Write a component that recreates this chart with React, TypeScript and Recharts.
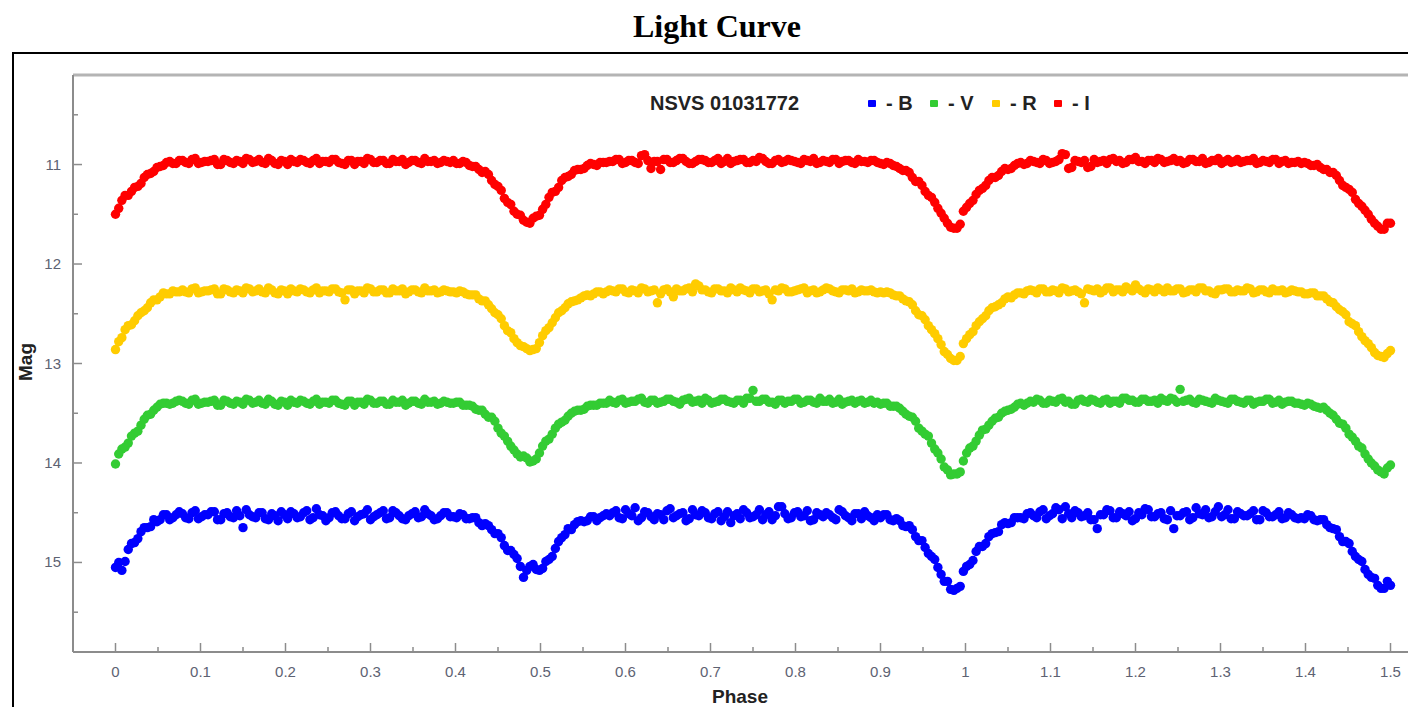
import { Legend, ReferenceLine, Scatter, ScatterChart, XAxis, YAxis } from "recharts";

// orbital phase of the first set of observations
const PHASE = [
  0, 0.0075, 0.015, 0.0225, 0.03, 0.0375, 0.045, 0.0525, 0.06, 0.0675,
  0.075, 0.0825, 0.09, 0.0975, 0.105, 0.1125, 0.12, 0.1275, 0.135, 0.1425,
  0.15, 0.1575, 0.165, 0.1725, 0.18, 0.1875, 0.195, 0.2025, 0.21, 0.2175,
  0.225, 0.2325, 0.24, 0.2475, 0.255, 0.2625, 0.27, 0.2775, 0.285, 0.2925,
  0.3, 0.3075, 0.315, 0.3225, 0.33, 0.3375, 0.345, 0.3525, 0.36, 0.3675,
  0.375, 0.3825, 0.39, 0.3975, 0.405, 0.4125, 0.42, 0.4275, 0.435, 0.4425,
  0.45, 0.4575, 0.465, 0.4725, 0.48, 0.4875, 0.495, 0.5025, 0.51, 0.5175,
  0.525, 0.5325, 0.54, 0.5475, 0.555, 0.5625, 0.57, 0.5775, 0.585, 0.5925,
  0.6, 0.6075, 0.615, 0.6225, 0.63, 0.6375, 0.645, 0.6525, 0.66, 0.6675,
  0.675, 0.6825, 0.69, 0.6975, 0.705, 0.7125, 0.72, 0.7275, 0.735, 0.7425,
  0.75, 0.7575, 0.765, 0.7725, 0.78, 0.7875, 0.795, 0.8025, 0.81, 0.8175,
  0.825, 0.8325, 0.84, 0.8475, 0.855, 0.8625, 0.87, 0.8775, 0.885, 0.8925,
  0.9, 0.9075, 0.915, 0.9225, 0.93, 0.9375, 0.945, 0.9525, 0.96, 0.9675,
  0.975, 0.9825, 0.99, 0.9975, 1.005, 1.0125, 1.02, 1.0275, 1.035, 1.0425,
  1.05, 1.0575, 1.065, 1.0725, 1.08, 1.0875, 1.095, 1.1025, 1.11, 1.1175,
  1.125, 1.1325, 1.14, 1.1475, 1.155, 1.1625, 1.17, 1.1775, 1.185, 1.1925,
  1.2, 1.2075, 1.215, 1.2225, 1.23, 1.2375, 1.245, 1.2525, 1.26, 1.2675,
  1.275, 1.2825, 1.29, 1.2975, 1.305, 1.3125, 1.32, 1.3275, 1.335, 1.3425,
  1.35, 1.3575, 1.365, 1.3725, 1.38, 1.3875, 1.395, 1.4025, 1.41, 1.4175,
  1.425, 1.4325, 1.44, 1.4475, 1.455, 1.4625, 1.47, 1.4775, 1.485, 1.4925,
  1.5,
];

// orbital phase of the second set of observations
const PHASE_2 = [
  0.0038, 0.0113, 0.0188, 0.0263, 0.0338, 0.0413, 0.0488, 0.0563, 0.0638, 0.0713,
  0.0788, 0.0863, 0.0938, 0.1013, 0.1088, 0.1163, 0.1238, 0.1313, 0.1388, 0.1463,
  0.1538, 0.1613, 0.1688, 0.1763, 0.1838, 0.1913, 0.1988, 0.2063, 0.2138, 0.2213,
  0.2288, 0.2363, 0.2438, 0.2513, 0.2588, 0.2663, 0.2738, 0.2813, 0.2888, 0.2963,
  0.3038, 0.3113, 0.3188, 0.3263, 0.3338, 0.3413, 0.3488, 0.3563, 0.3638, 0.3713,
  0.3788, 0.3863, 0.3938, 0.4013, 0.4088, 0.4163, 0.4238, 0.4313, 0.4388, 0.4463,
  0.4538, 0.4613, 0.4688, 0.4763, 0.4838, 0.4913, 0.4988, 0.5063, 0.5138, 0.5213,
  0.5288, 0.5363, 0.5438, 0.5513, 0.5588, 0.5663, 0.5738, 0.5813, 0.5888, 0.5963,
  0.6038, 0.6113, 0.6188, 0.6263, 0.6338, 0.6413, 0.6488, 0.6563, 0.6638, 0.6713,
  0.6788, 0.6863, 0.6938, 0.7013, 0.7088, 0.7163, 0.7238, 0.7313, 0.7388, 0.7463,
  0.7538, 0.7613, 0.7688, 0.7763, 0.7838, 0.7913, 0.7988, 0.8063, 0.8138, 0.8213,
  0.8288, 0.8363, 0.8438, 0.8513, 0.8588, 0.8663, 0.8738, 0.8813, 0.8888, 0.8963,
  0.9038, 0.9113, 0.9188, 0.9263, 0.9338, 0.9413, 0.9488, 0.9563, 0.9638, 0.9713,
  0.9788, 0.9863, 0.9938, 1.0013, 1.0088, 1.0163, 1.0238, 1.0313, 1.0388, 1.0463,
  1.0538, 1.0613, 1.0688, 1.0763, 1.0838, 1.0913, 1.0988, 1.1063, 1.1138, 1.1213,
  1.1288, 1.1363, 1.1438, 1.1513, 1.1588, 1.1663, 1.1738, 1.1813, 1.1888, 1.1963,
  1.2038, 1.2113, 1.2188, 1.2263, 1.2338, 1.2413, 1.2488, 1.2563, 1.2638, 1.2713,
  1.2788, 1.2863, 1.2938, 1.3013, 1.3088, 1.3163, 1.3238, 1.3313, 1.3388, 1.3463,
  1.3538, 1.3613, 1.3688, 1.3763, 1.3838, 1.3913, 1.3988, 1.4063, 1.4138, 1.4213,
  1.4288, 1.4363, 1.4438, 1.4513, 1.4588, 1.4663, 1.4738, 1.4813, 1.4888, 1.4963,
];

const MAG_I = [
  11.5, 11.36, 11.31, 11.23, 11.19, 11.1, 11.07, 11.02, 10.98, 10.99, 10.96,
  10.98, 10.95, 10.99, 10.97, 10.96, 11.0, 10.95, 10.98, 10.96, 10.99,
  10.95, 10.97, 10.98, 10.94, 10.99, 10.96, 11.0, 10.97, 10.95, 10.98,
  10.96, 10.99, 10.97, 10.95, 10.98, 11.0, 10.96, 10.97, 10.99, 10.95,
  10.98, 10.96, 10.99, 10.97, 10.95, 10.98, 10.96, 10.99, 10.97, 10.96,
  10.98, 10.97,
  10.96, 10.99, 10.98, 11.02, 11.05, 11.07, 11.16, 11.22, 11.34, 11.4, 11.5, 11.56, 11.59,
  11.52, 11.45, 11.33, 11.27, 11.16, 11.12, 11.06, 11.05, 11.01, 11.0, 10.98, 10.98,
  10.97, 10.95, 10.98, 10.96, 10.99, 10.9, 11.04, 10.97, 10.95, 10.98,
  10.96, 10.94, 10.99, 10.97, 10.95, 10.98, 10.96, 10.99, 10.94, 10.97,
  10.95, 10.98, 10.96, 10.93, 10.97, 10.99, 10.95, 10.97, 10.96, 10.98,
  10.95, 10.97, 10.99, 10.96, 10.98, 10.95, 10.97, 10.96, 10.99, 10.97,
  10.98, 10.96,
  10.99, 10.98, 11.01, 11.04, 11.06, 11.13, 11.17, 11.27, 11.33, 11.44, 11.54, 11.63,
  11.64, 11.47, 11.39, 11.3, 11.24, 11.16, 11.13, 11.07, 11.05, 11.01, 10.98, 10.99,
  10.97, 10.99, 10.96, 10.98, 10.95, 10.9, 11.03, 10.97, 10.96, 11.02,
  10.98, 10.96, 10.95, 10.97, 10.99, 10.95, 10.93, 10.97, 10.96, 10.98,
  10.95, 10.97, 10.94, 10.96, 10.98, 10.95, 10.97, 10.99, 10.96, 10.94,
  10.97, 10.98, 10.95, 10.97, 10.96, 10.99, 10.96, 10.98, 10.95, 10.97,
  10.99, 10.98,
  10.99, 10.99, 11.01, 11.03, 11.05, 11.08, 11.16, 11.23, 11.28, 11.39, 11.46, 11.55,
  11.62, 11.65, 11.59,
];

const MAG_I_2 = [
  11.44, 11.31, 11.27, 11.22, 11.13, 11.09, 11.03, 11.01, 10.97, 10.99,
  10.96, 10.99, 10.94, 10.98, 10.97, 10.95, 11.0, 10.96, 10.99, 10.97,
  10.94, 10.98, 10.95, 10.99, 10.96, 11.0, 10.97, 10.95, 10.98, 10.96,
  10.99, 10.94, 10.97, 10.98, 10.95, 10.99, 10.96, 11.0, 10.97, 10.94,
  10.98, 10.96, 10.99, 10.95, 10.97, 11.0, 10.96, 10.98, 10.94, 10.97,
  10.99, 10.96, 10.98,
  10.99, 10.97, 11.01, 11.02, 11.08, 11.1, 11.2, 11.26, 11.38, 11.47, 11.51, 11.58,
  11.54, 11.51, 11.4, 11.28, 11.23, 11.13, 11.1, 11.05, 11.04, 10.99, 11.01, 10.98,
  10.97, 10.95, 10.99, 10.96, 10.98, 10.91, 10.96, 10.97, 11.05, 10.95,
  10.98, 10.94, 10.97, 10.99, 10.95, 10.96, 10.98, 10.94, 10.97, 10.99,
  10.96, 10.95, 10.98, 10.97, 10.94, 10.99, 10.96, 10.98, 10.95, 10.97,
  10.99, 10.96, 10.94, 10.98, 10.97, 10.95, 10.99, 10.96, 10.98, 10.95,
  10.97, 10.96, 10.98,
  11.0, 10.99, 11.02, 11.06, 11.08, 11.17, 11.21, 11.31, 11.38, 11.49, 11.59, 11.64,
  11.6, 11.43, 11.36, 11.26, 11.21, 11.13, 11.11, 11.04, 11.04, 10.99, 11.0,
  10.96, 10.98, 10.95, 10.99, 10.97, 10.89, 11.04, 10.96, 10.98, 11.03,
  10.95, 10.97, 10.99, 10.94, 10.96, 10.98, 10.95, 10.97, 10.99, 10.96,
  10.94, 10.98, 10.96, 10.97, 10.99, 10.95, 10.97, 10.94, 10.98, 10.96,
  10.99, 10.95, 10.97, 10.98, 10.96, 10.94, 10.98, 10.97, 10.95, 10.99,
  10.96, 10.98, 10.97,
  10.98, 11.01, 11.0, 11.05, 11.08, 11.11, 11.21, 11.25, 11.35, 11.42, 11.5, 11.59,
  11.65, 11.59,
];

const MAG_R = [
  12.86, 12.74, 12.62, 12.57, 12.49, 12.44, 12.36, 12.33, 12.3, 12.27, 12.28,
  12.28, 12.25, 12.29, 12.27, 12.26, 12.3, 12.25, 12.28, 12.26, 12.29,
  12.25, 12.27, 12.28, 12.24, 12.29, 12.26, 12.3, 12.27, 12.25, 12.28,
  12.26, 12.29, 12.27, 12.25, 12.28, 12.36, 12.26, 12.27, 12.29, 12.25,
  12.28, 12.26, 12.29, 12.27, 12.25, 12.28, 12.26, 12.29, 12.27, 12.26,
  12.28, 12.27,
  12.28, 12.27, 12.3, 12.31, 12.35, 12.37, 12.45, 12.51, 12.62, 12.69, 12.79, 12.83, 12.87,
  12.85, 12.72, 12.64, 12.54, 12.47, 12.4, 12.37, 12.34, 12.31, 12.3, 12.28, 12.28,
  12.27, 12.25, 12.28, 12.26, 12.29, 12.25, 12.27, 12.39, 12.26, 12.28,
  12.25, 12.27, 12.24, 12.2, 12.26, 12.28, 12.25, 12.27, 12.29, 12.26,
  12.24, 12.27, 12.25, 12.28, 12.26, 12.36, 12.27, 12.25, 12.28, 12.26,
  12.24, 12.27, 12.29, 12.26, 12.25, 12.28, 12.26, 12.27, 12.29, 12.26,
  12.27, 12.28,
  12.28, 12.28, 12.31, 12.32, 12.37, 12.41, 12.51, 12.56, 12.66, 12.75, 12.88, 12.95,
  12.97, 12.8, 12.71, 12.62, 12.55, 12.47, 12.43, 12.39, 12.33, 12.31, 12.29, 12.27,
  12.27, 12.25, 12.28, 12.26, 12.29, 12.25, 12.27, 12.28, 12.39, 12.26,
  12.25, 12.27, 12.24, 12.26, 12.28, 12.25, 12.21, 12.27, 12.25, 12.28,
  12.26, 12.24, 12.27, 12.25, 12.28, 12.26, 12.24, 12.27, 12.29, 12.26,
  12.25, 12.28, 12.26, 12.27, 12.25, 12.28, 12.26, 12.29, 12.27, 12.26,
  12.28, 12.27,
  12.28, 12.3, 12.29, 12.32, 12.35, 12.39, 12.46, 12.51, 12.6, 12.68, 12.77, 12.84,
  12.92, 12.94, 12.87,
];

const MAG_R_2 = [
  12.78, 12.66, 12.61, 12.52, 12.47, 12.39, 12.36, 12.29, 12.3, 12.28,
  12.26, 12.29, 12.24, 12.28, 12.27, 12.25, 12.3, 12.26, 12.29, 12.27,
  12.24, 12.28, 12.25, 12.29, 12.26, 12.3, 12.27, 12.25, 12.28, 12.26,
  12.29, 12.24, 12.27, 12.28, 12.25, 12.29, 12.26, 12.3, 12.27, 12.24,
  12.28, 12.26, 12.29, 12.25, 12.27, 12.3, 12.26, 12.28, 12.24, 12.27,
  12.29, 12.26, 12.28,
  12.29, 12.28, 12.31, 12.31, 12.37, 12.41, 12.49, 12.55, 12.67, 12.75, 12.82, 12.85,
  12.86, 12.79, 12.67, 12.59, 12.49, 12.44, 12.38, 12.36, 12.32, 12.32, 12.28, 12.3,
  12.26, 12.28, 12.25, 12.29, 12.27, 12.24, 12.28, 12.26, 12.3, 12.25,
  12.33, 12.27, 12.25, 12.28, 12.22, 12.26, 12.29, 12.25, 12.27, 12.24,
  12.28, 12.26, 12.29, 12.25, 12.27, 12.3, 12.26, 12.24, 12.28, 12.27,
  12.25, 12.29, 12.26, 12.28, 12.24, 12.27, 12.29, 12.26, 12.25, 12.28,
  12.27, 12.26, 12.29,
  12.29, 12.29, 12.32, 12.35, 12.38, 12.47, 12.52, 12.62, 12.7, 12.81, 12.91, 12.97,
  12.93, 12.75, 12.68, 12.58, 12.52, 12.44, 12.41, 12.35, 12.34, 12.29, 12.3,
  12.26, 12.29, 12.25, 12.28, 12.27, 12.24, 12.28, 12.26, 12.3, 12.25,
  12.27, 12.29, 12.24, 12.28, 12.26, 12.23, 12.27, 12.25, 12.29, 12.26,
  12.24, 12.28, 12.27, 12.25, 12.29, 12.26, 12.28, 12.24, 12.27, 12.3,
  12.26, 12.25, 12.28, 12.27, 12.24, 12.29, 12.26, 12.28, 12.25, 12.27,
  12.29, 12.26, 12.28,
  12.3, 12.29, 12.32, 12.32, 12.38, 12.43, 12.48, 12.58, 12.62, 12.73, 12.8, 12.89,
  12.93, 12.9,
];

const MAG_V = [
  14.01, 13.86, 13.8, 13.7, 13.62, 13.52, 13.47, 13.41, 13.4, 13.4, 13.37,
  13.4, 13.37, 13.41, 13.39, 13.38, 13.42, 13.37, 13.4, 13.38, 13.41,
  13.37, 13.39, 13.4, 13.36, 13.41, 13.38, 13.42, 13.39, 13.37, 13.4,
  13.38, 13.41, 13.39, 13.37, 13.4, 13.42, 13.38, 13.39, 13.41, 13.37,
  13.4, 13.38, 13.41, 13.39, 13.37, 13.4, 13.38, 13.41, 13.39, 13.38,
  13.4, 13.39,
  13.4, 13.39, 13.42, 13.43, 13.47, 13.51, 13.54, 13.65, 13.73, 13.83, 13.91, 13.93, 13.99,
  13.96, 13.83, 13.76, 13.65, 13.59, 13.53, 13.48, 13.47, 13.43, 13.42, 13.4, 13.4,
  13.39, 13.37, 13.4, 13.38, 13.36, 13.39, 13.37, 13.4, 13.38, 13.36,
  13.39, 13.37, 13.35, 13.38, 13.4, 13.37, 13.39, 13.36, 13.38, 13.4,
  13.37, 13.35, 13.27, 13.38, 13.36, 13.39, 13.37, 13.4, 13.38, 13.36,
  13.39, 13.37, 13.4, 13.38, 13.36, 13.39, 13.41, 13.38, 13.4, 13.37,
  13.39, 13.4,
  13.41, 13.4, 13.43, 13.45, 13.51, 13.54, 13.65, 13.71, 13.8, 13.9, 14.04, 14.12,
  14.11, 13.98, 13.85, 13.78, 13.67, 13.62, 13.55, 13.5, 13.47, 13.44, 13.4, 13.4,
  13.39, 13.37, 13.4, 13.38, 13.36, 13.39, 13.41, 13.37, 13.38, 13.36,
  13.39, 13.37, 13.4, 13.38, 13.35, 13.37, 13.39, 13.36, 13.38, 13.37,
  13.35, 13.38, 13.36, 13.26, 13.37, 13.39, 13.36, 13.38, 13.4, 13.37,
  13.39, 13.36, 13.38, 13.4, 13.37, 13.39, 13.38, 13.36, 13.39, 13.41,
  13.38, 13.4,
  13.41, 13.4, 13.43, 13.45, 13.47, 13.52, 13.6, 13.65, 13.74, 13.83, 13.91, 14.0,
  14.07, 14.11, 14.02,
];

const MAG_V_2 = [
  13.91, 13.84, 13.73, 13.68, 13.56, 13.51, 13.44, 13.4, 13.41, 13.38,
  13.38, 13.41, 13.36, 13.4, 13.39, 13.37, 13.42, 13.38, 13.41, 13.39,
  13.36, 13.4, 13.37, 13.41, 13.38, 13.42, 13.39, 13.37, 13.4, 13.38,
  13.41, 13.36, 13.39, 13.4, 13.37, 13.41, 13.38, 13.42, 13.39, 13.36,
  13.4, 13.38, 13.41, 13.37, 13.39, 13.42, 13.38, 13.4, 13.36, 13.39,
  13.41, 13.38, 13.4,
  13.39, 13.42, 13.42, 13.46, 13.47, 13.54, 13.58, 13.7, 13.78, 13.87, 13.94, 13.95,
  13.98, 13.9, 13.78, 13.71, 13.61, 13.57, 13.5, 13.47, 13.46, 13.42, 13.42, 13.4,
  13.37, 13.4, 13.36, 13.39, 13.38, 13.35, 13.4, 13.37, 13.39, 13.36,
  13.38, 13.41, 13.36, 13.39, 13.37, 13.35, 13.4, 13.38, 13.36, 13.39,
  13.37, 13.4, 13.35, 13.38, 13.36, 13.39, 13.41, 13.37, 13.38, 13.36,
  13.4, 13.37, 13.39, 13.35, 13.38, 13.4, 13.36, 13.39, 13.37, 13.38,
  13.4, 13.37, 13.39,
  13.4, 13.43, 13.43, 13.48, 13.53, 13.58, 13.68, 13.73, 13.86, 13.96, 14.07, 14.11,
  14.09, 13.9, 13.83, 13.72, 13.66, 13.58, 13.54, 13.48, 13.46, 13.41, 13.42,
  13.38, 13.36, 13.4, 13.37, 13.39, 13.35, 13.38, 13.41, 13.36, 13.39,
  13.37, 13.4, 13.36, 13.38, 13.4, 13.35, 13.37, 13.39, 13.36, 13.38,
  13.4, 13.37, 13.35, 13.39, 13.38, 13.36, 13.4, 13.37, 13.39, 13.35,
  13.38, 13.4, 13.36, 13.39, 13.37, 13.41, 13.38, 13.36, 13.4, 13.37,
  13.39, 13.38, 13.4,
  13.42, 13.41, 13.44, 13.44, 13.5, 13.56, 13.61, 13.71, 13.78, 13.85, 13.96, 14.03,
  14.09, 14.05,
];

const MAG_B = [
  15.05, 15.08, 14.87, 14.8, 14.69, 14.65, 14.57, 14.57, 14.52, 14.55, 14.49,
  14.55, 14.5, 14.56, 14.52, 14.49, 14.57, 14.51, 14.54, 14.48, 14.65,
  14.52, 14.55, 14.5, 14.57, 14.53, 14.49, 14.56, 14.51, 14.54, 14.48,
  14.55, 14.52, 14.58, 14.5, 14.53, 14.56, 14.49, 14.54, 14.51, 14.57,
  14.52, 14.48, 14.55, 14.5, 14.56, 14.53, 14.49, 14.54, 14.51, 14.57,
  14.53, 14.5,
  14.54, 14.51, 14.56, 14.55, 14.6, 14.61, 14.67, 14.71, 14.83, 14.88, 14.96, 15.15, 15.04,
  15.07, 15.06, 14.97, 14.86, 14.75, 14.66, 14.62, 14.58, 14.58, 14.54, 14.55, 14.51,
  14.5, 14.55, 14.47, 14.53, 14.58, 14.49, 14.54, 14.51, 14.57, 14.46,
  14.53, 14.5, 14.56, 14.52, 14.48, 14.55, 14.51, 14.58, 14.49, 14.53,
  14.56, 14.5, 14.54, 14.47, 14.52, 14.57, 14.44, 14.51, 14.55, 14.49,
  14.53, 14.58, 14.5, 14.54, 14.52, 14.57, 14.49, 14.55, 14.51, 14.56,
  14.53, 14.58,
  14.55, 14.52, 14.58, 14.58, 14.64, 14.67, 14.78, 14.85, 14.94, 15.05, 15.19, 15.27,
  15.26, 15.09, 15.02, 14.89, 14.84, 14.74, 14.7, 14.62, 14.61, 14.55, 14.55, 14.51,
  14.53, 14.49, 14.56, 14.51, 14.47, 14.44, 14.55, 14.5, 14.53, 14.57,
  14.66, 14.52, 14.48, 14.55, 14.51, 14.49, 14.56, 14.52, 14.47, 14.54,
  14.5, 14.57, 14.66, 14.53, 14.49, 14.55, 14.51, 14.47, 14.54, 14.44,
  14.52, 14.56, 14.49, 14.53, 14.51, 14.57, 14.48, 14.54, 14.52, 14.56,
  14.5, 14.55,
  14.55, 14.52, 14.57, 14.57, 14.62, 14.66, 14.74, 14.79, 14.89, 14.97, 15.07, 15.15,
  15.23, 15.26, 15.23,
];

const MAG_B_2 = [
  15.0, 14.99, 14.81, 14.76, 14.65, 14.64, 14.59, 14.52, 14.57, 14.52,
  14.51, 14.56, 14.48, 14.54, 14.52, 14.49, 14.57, 14.5, 14.55, 14.53,
  14.47, 14.54, 14.5, 14.56, 14.51, 14.58, 14.52, 14.49, 14.55, 14.5,
  14.57, 14.46, 14.53, 14.55, 14.49, 14.56, 14.51, 14.58, 14.52, 14.47,
  14.54, 14.5, 14.56, 14.48, 14.53, 14.57, 14.51, 14.55, 14.47, 14.53,
  14.56, 14.5, 14.54,
  14.55, 14.52, 14.56, 14.55, 14.63, 14.63, 14.71, 14.75, 14.88, 14.92, 15.04, 15.08,
  15.02, 15.08, 14.99, 14.94, 14.79, 14.72, 14.67, 14.59, 14.59, 14.54, 14.58, 14.53,
  14.53, 14.48, 14.56, 14.51, 14.45, 14.55, 14.5, 14.57, 14.52, 14.48,
  14.55, 14.51, 14.58, 14.47, 14.53, 14.5, 14.56, 14.49, 14.54, 14.6,
  14.51, 14.47, 14.55, 14.52, 14.57, 14.49, 14.53, 14.44, 14.56, 14.5,
  14.54, 14.48, 14.57, 14.52, 14.5, 14.55, 14.47, 14.53, 14.58, 14.51,
  14.49, 14.55, 14.52,
  14.52, 14.57, 14.56, 14.63, 14.63, 14.74, 14.78, 14.91, 14.97, 15.12, 15.19, 15.28,
  15.24, 15.04, 14.98, 14.84, 14.81, 14.71, 14.69, 14.6, 14.6, 14.55, 14.56,
  14.5, 14.55, 14.47, 14.53, 14.45, 14.56, 14.51, 14.48, 14.54, 14.5,
  14.57, 14.52, 14.47, 14.55, 14.49, 14.53, 14.58, 14.5, 14.46, 14.54,
  14.51, 14.56, 14.48, 14.53, 14.5, 14.57, 14.45, 14.52, 14.55, 14.49,
  14.54, 14.47, 14.56, 14.51, 14.53, 14.48, 14.57, 14.5, 14.54, 14.49,
  14.55, 14.52, 14.56,
  14.56, 14.53, 14.58, 14.57, 14.65, 14.67, 14.79, 14.81, 14.94, 14.99, 15.12, 15.16,
  15.26, 15.19,
];

const X_TICKS = [
  0, 0.05, 0.1, 0.15, 0.2, 0.25, 0.3, 0.35, 0.4, 0.45, 0.5, 0.55, 0.6, 0.65, 0.7, 0.75,
  0.8, 0.85, 0.9, 0.95, 1, 1.05, 1.1, 1.15, 1.2, 1.25, 1.3, 1.35, 1.4, 1.45, 1.5,
];
const Y_TICKS = [10.5, 11, 11.5, 12, 12.5, 13, 13.5, 14, 14.5, 15, 15.5];

const SERIES = [
  { name: "B", color: "#0000ff", mags: MAG_B, mags2: MAG_B_2 },
  { name: "V", color: "#33cc33", mags: MAG_V, mags2: MAG_V_2 },
  { name: "R", color: "#ffcc00", mags: MAG_R, mags2: MAG_R_2 },
  { name: "I", color: "#ff0000", mags: MAG_I, mags2: MAG_I_2 },
];

const FONT = "'Liberation Sans', Arial, sans-serif";
const TICK_COLOR = "#5d6272";
const AXIS_COLOR = "#8c8c8c";

const isMajor = (v: number, step: number) =>
  Math.abs(v / step - Math.round(v / step)) < 1e-6;

const toPoints = (mags: number[], mags2: number[]) =>
  PHASE.map((phase, i) => ({ phase, mag: mags[i] }))
    .concat(PHASE_2.map((phase, i) => ({ phase, mag: mags2[i] })))
    .filter((d) => d.mag != null);

function PhaseTick({ x, y, payload }: any) {
  const v = payload.value as number;
  const major = isMajor(v, 0.1);
  return (
    <g>
      <line x1={x} x2={x} y1={y} y2={y - (major ? 9 : 5)} stroke={AXIS_COLOR} strokeWidth={1.5} />
      {major && (
        <text x={x} y={y + 25} textAnchor="middle" fontSize={15} fontFamily={FONT} fill={TICK_COLOR}>
          {String(Number(v.toFixed(2)))}
        </text>
      )}
    </g>
  );
}

function MagTick({ x, y, payload }: any) {
  const v = payload.value as number;
  const major = isMajor(v, 1);
  return (
    <g>
      <line x1={x} x2={x + (major ? 9 : 5)} y1={y} y2={y} stroke={AXIS_COLOR} strokeWidth={1.5} />
      {major && (
        <text x={x - 12} y={y + 5} textAnchor="end" fontSize={15} fontFamily={FONT} fill={TICK_COLOR}>
          {v}
        </text>
      )}
    </g>
  );
}

// legend keeps the series order (B, V, R, I) instead of recharts' sorted payload
function LegendBox() {
  return (
    <div style={{ display: "flex", alignItems: "center", fontFamily: FONT, fontWeight: "bold", fontSize: 20, color: "#222" }}>
      <span style={{ width: 218 }}>NSVS 01031772</span>
      {SERIES.map((s) => (
        <span key={s.name} style={{ width: 62, display: "flex", alignItems: "center" }}>
          <span style={{ width: 8, height: 7, background: s.color, borderRadius: 1, marginRight: 10 }} />
          <span>- {s.name}</span>
        </span>
      ))}
    </div>
  );
}

export default function App() {
  return (
    <div style={{ position: "absolute", left: 0, top: 0, width: 1408, height: 707, overflow: "hidden", background: "#fff" }}>
      <div
        style={{
          position: "absolute", left: 0, top: 6, width: 1434, textAlign: "center",
          fontFamily: "'Liberation Serif', 'Times New Roman', serif", fontWeight: "bold",
          fontSize: 32, lineHeight: "40px", color: "#000",
        }}
      >
        Light Curve
      </div>
      <div style={{ position: "absolute", left: 12, top: 52, width: 1500, height: 720, border: "2px solid #000" }} />
      <div style={{ position: "absolute", left: 0, top: 0 }}>
        <ScatterChart width={1463} height={720} margin={{ top: 75, right: 30, bottom: 0, left: 0 }}>
          <XAxis
            type="number"
            dataKey="phase"
            domain={[-0.05, 1.55]}
            ticks={X_TICKS}
            interval={0}
            height={68}
            tickSize={0}
            tickMargin={0}
            tickLine={false}
            tick={(p: any) => <PhaseTick {...p} />}
            axisLine={{ stroke: AXIS_COLOR, strokeWidth: 2 }}
          />
          <YAxis
            type="number"
            dataKey="mag"
            reversed
            domain={[10.1, 15.9]}
            ticks={Y_TICKS}
            interval={0}
            width={73}
            tickSize={0}
            tickMargin={0}
            tickLine={false}
            tick={(p: any) => <MagTick {...p} />}
            axisLine={{ stroke: AXIS_COLOR, strokeWidth: 2 }}
          />
          <ReferenceLine y={10.1} stroke="#b4b4b4" strokeWidth={3} />
          <Legend
            layout="horizontal"
            verticalAlign="middle"
            align="center"
            wrapperStyle={{ left: 650, top: 92, width: 480 }}
            content={() => <LegendBox />}
          />
          {SERIES.map((s) => (
            <Scatter
              key={s.name}
              name={s.name}
              data={toPoints(s.mags, s.mags2)}
              fill={s.color}
              isAnimationActive={false}
              shape={(p: any) => <circle cx={p.cx} cy={p.cy} r={4.7} fill={s.color} />}
            />
          ))}
        </ScatterChart>
      </div>
      <div
        style={{
          position: "absolute", left: 700, top: 686, width: 80, textAlign: "center",
          fontFamily: FONT, fontWeight: "bold", fontSize: 19, lineHeight: "22px", color: "#222",
        }}
      >
        Phase
      </div>
      <div style={{ position: "absolute", left: 26, top: 362, width: 0, height: 0 }}>
        <div
          style={{
            position: "absolute", left: -40, top: -11, width: 80, textAlign: "center",
            transform: "rotate(-90deg)", fontFamily: FONT, fontWeight: "bold", fontSize: 19,
            lineHeight: "22px", color: "#222",
          }}
        >
          Mag
        </div>
      </div>
    </div>
  );
}
